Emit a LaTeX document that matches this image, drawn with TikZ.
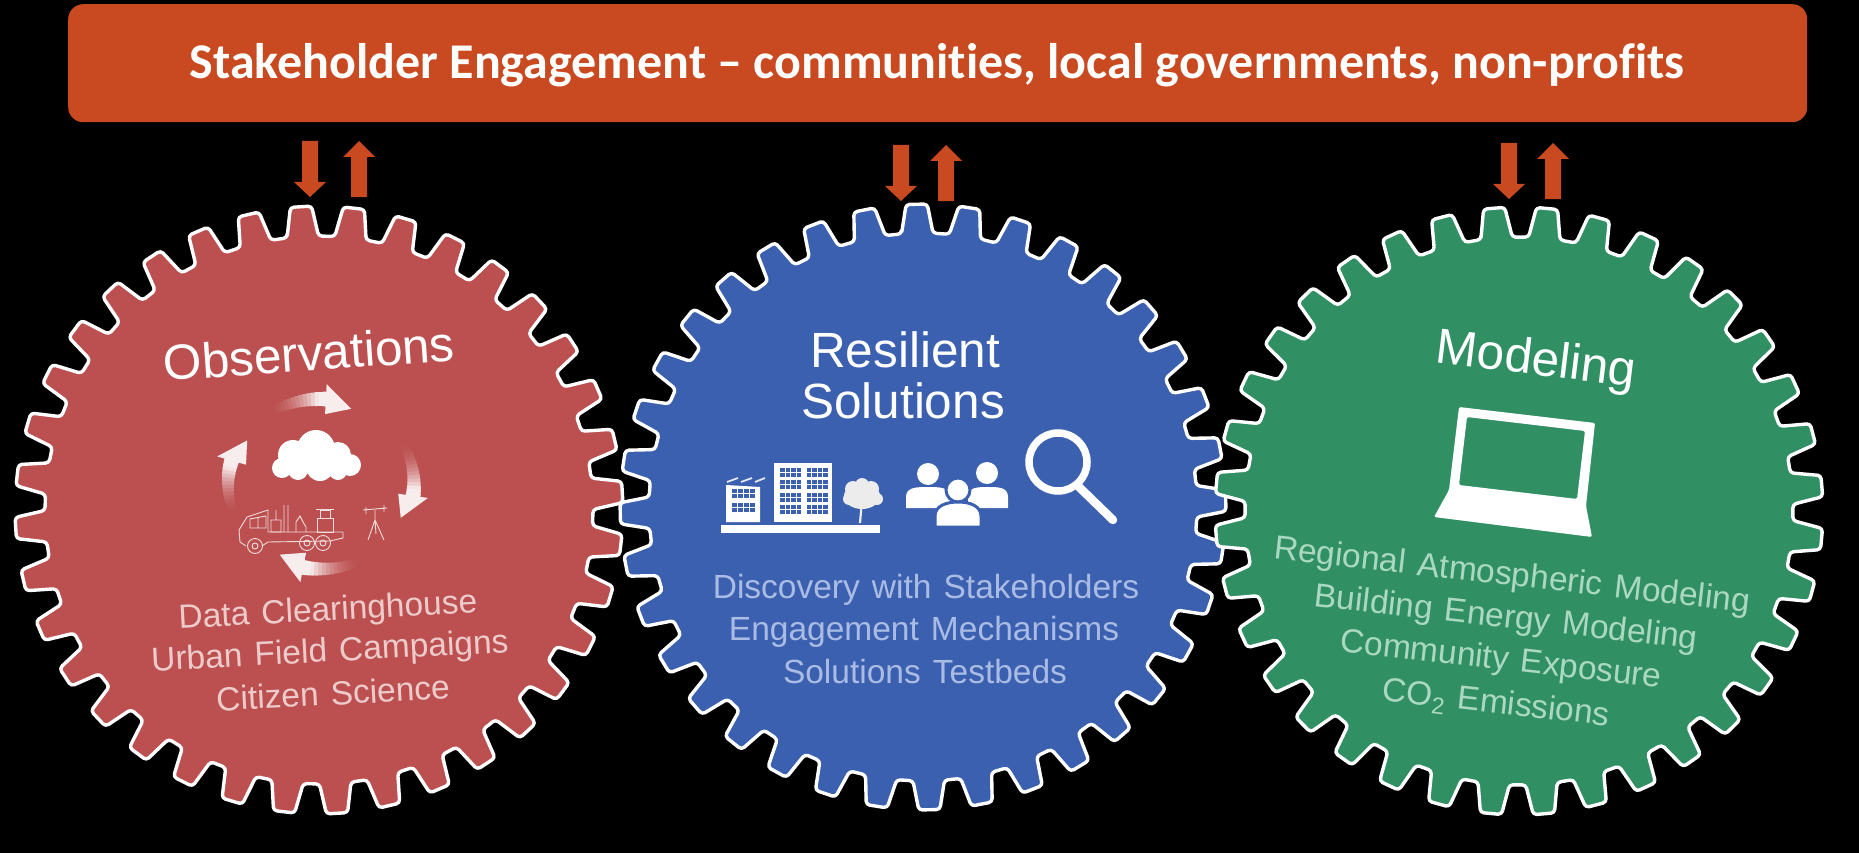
\documentclass[tikz,border=0pt]{standalone}
\usepackage{fontspec}
\setmainfont{Liberation Sans}
\newfontfamily\bannerfont[Ligatures=CommonOff]{Carlito}
\newfontfamily\subfont[WordSpace=1.3]{Liberation Sans}
\definecolor{bannerc}{HTML}{C94A20}
\definecolor{redg}{HTML}{BC5050}
\definecolor{blueg}{HTML}{3B60B0}
\definecolor{greeng}{HTML}{319063}
\definecolor{redt}{HTML}{EDCBCB}
\definecolor{bluet}{HTML}{AABCE4}
\definecolor{greent}{HTML}{ABD8C0}
\newcommand\gearshape[3]{%
  \draw[white,line width=3.4pt,fill=#3,rounded corners=3.5pt,line join=round]
    ({#2-3.3}:274)
    foreach \i in {0,...,35} {
      -- ({#2+\i*10-3.3}:274) -- ({#2+\i*10-2}:#1) -- ({#2+\i*10+2}:#1) -- ({#2+\i*10+3.3}:274)
    } -- cycle;
}
\newcommand\blockdown[2]{%
  \fill[bannerc] (#1-8,#2) -- (#1+8,#2) -- (#1+8,#2+41) -- (#1+16,#2+41) -- (#1,#2+56) -- (#1-16,#2+41) -- (#1-8,#2+41) -- cycle;}
\newcommand\blockup[2]{%
  \fill[bannerc] (#1-8,#2+56) -- (#1+8,#2+56) -- (#1+8,#2+16) -- (#1+16,#2+16) -- (#1,#2) -- (#1-16,#2+16) -- (#1-8,#2+16) -- cycle;}
\newcommand\cyclearrow[1]{%
  \foreach \k in {0,...,15} {
    \pgfmathsetmacro\ta{#1+\k*2.4}
    \pgfmathsetmacro\tb{#1+\k*2.4+2.8}
    \pgfmathsetmacro\tint{min(90,\k*\k*0.5)}
    \pgfmathsetmacro\lw{8+\k*0.45}
    \draw[line width=\lw pt,white!\tint!redg] ({321+93*cos(\ta)},{484+85*sin(\ta)}) -- ({321+93*cos(\tb)},{484+85*sin(\tb)});
  }
  \fill[white!90!redg] ({321+108*cos(#1+38)},{484+100*sin(#1+38)}) -- ({321+78*cos(#1+38)},{484+70*sin(#1+38)}) -- ({321+88*cos(#1+55)},{484+80*sin(#1+55)}) -- cycle;
}
\tikzset{
  title/.style={font=\fontsize{49.5}{52}\selectfont,white,align=center},
  subr/.style={font=\subfont\fontsize{33.5}{36}\selectfont,redt},
  subb/.style={font=\subfont\fontsize{33.5}{36}\selectfont,bluet},
  subg/.style={font=\subfont\fontsize{33.5}{36}\selectfont,greent},
  thinw/.style={white!80!redg,line width=0.9pt},
}
\begin{document}
\begin{tikzpicture}[x=1pt,y=-1pt]
\useasboundingbox (0,0) rectangle (1859,853);
\fill[black] (0,0) rectangle (1859,853);
% banner
\node[fill=bannerc,rounded corners=15pt,minimum width=1739pt,minimum height=118pt,inner sep=0pt,anchor=north west] (banner) at (68,4) {};
\node[font=\bannerfont\bfseries\fontsize{50}{54}\selectfont,white] (bannertext) at (937,65) {Stakeholder Engagement – communities, local governments, non-profits};
% arrows
\blockdown{310}{141}\blockup{359}{141}
\blockdown{901}{145}\blockup{946}{145}
\blockdown{1509}{143}\blockup{1553}{143}
% gears
\begin{scope}[shift={(923,507)}]\gearshape{303}{-91.2}{blueg}\end{scope}
\begin{scope}[shift={(319,510)}]\gearshape{304}{-93.4}{redg}\end{scope}
\begin{scope}[shift={(1519,511)}]\gearshape{304}{-94.7}{greeng}\end{scope}
% red gear contents
\node[title,rotate=4] (obs) at (309,353) {Observations};
\foreach \s in {-125,-30,63,158} {\cyclearrow{\s}}
\fill[white] (282,468) circle (10) (293,455) circle (15) (316,449) circle (19) (338,455) circle (13) (350,465) circle (11) (320,467) circle (14) (298,470) circle (10) (338,471) circle (9);
% truck
\draw[thinw,line join=round] (240,542) -- (239,530) -- (247,517) -- (268,510) -- (268,532) -- (343,532) -- (343,538) -- (330,541) -- (268,542) -- (262,546) (240,542) -- (246,546);
\draw[thinw] (250,519) -- (250,528) -- (266,528) -- (266,516) -- cycle (258,517) -- (258,528);
\draw[thinw] (271,532) rectangle (281,520) (276,520) -- (276,510) (284,532) -- (284,505) (288,532) -- (288,505) (296,532) -- (296,522) -- (300,516) -- (303,522) -- (306,527) -- (306,532);
\draw[thinw] (317,532) rectangle (333,518) (320,518) -- (320,510) -- (330,510) -- (330,518) (316,509) -- (334,509);
\foreach \c in {(255,546),(307,543),(323,543)} {\draw[thinw] \c circle (7.5) \c circle (3);}
% tripod
\draw[thinw] (363,510) -- (387,508) (366,507) -- (366,514) (384,505) -- (384,512) (375,510) -- (375,520) (375,520) -- (368,540) (375,520) -- (384,540) (375,520) -- (376,534);
\node[subr,rotate=3] (r1) at (328,612) {Data Clearinghouse};
\node[subr,rotate=3] (r2) at (330,653) {Urban Field Campaigns};
\node[subr,rotate=3] (r3) at (333,693) {Citizen Science};
% blue gear contents
\node[title] (res1) at (905,350) {Resilient};
\node[title] (res2) at (903,401) {Solutions};
\fill[white] (721,525) rectangle (880,533);
\fill[white] (726,485) -- (760,487) -- (760,522) -- (726,522) -- cycle;
\fill[white] (774,463) rectangle (832,522);
\foreach \xx in {732,738,744,750} {\foreach \yy in {489,494,503,508} {\fill[blueg] (\xx,\yy) rectangle ++(4.6,4);}}
\foreach \xx in {780,785.5,791,796.5,806.5,812,817.5,823} {\foreach \yy in {467.5,472.5,480,485,492.5,497.5,505,510} {\fill[blueg] (\xx,\yy) rectangle ++(4.5,4);}}
\draw[white!85!blueg,line width=1.8pt] (727,482) -- (738,478) (741,482) -- (752,478) (755,482) -- (765,478);
\fill[white!85!gray] (862,496) ellipse (18 and 13) (853,489) circle (8) (871,489) circle (8) (862,485) circle (7) (849,499) circle (6) (877,499) circle (6);
\draw[white!85!gray,line width=2.2pt] (862,500) -- (860,523);
\foreach \p/\w/\yt/\yb in {928/22/487/508,988/20/487/508} {
  \fill[white] (\p-\w,\yb) -- (\p-\w,\yt+10) .. controls (\p-\w,\yt) and (\p-\w/2,\yt) .. (\p,\yt) .. controls (\p+\w/2,\yt) and (\p+\w,\yt) .. (\p+\w,\yt+10) -- (\p+\w,\yb) -- cycle;
}
\fill[white] (928,474) circle (11) (987,473) circle (11);
\fill[white,draw=blueg,line width=3pt] (958,490) circle (12);
\fill[white,draw=blueg,line width=3pt] (935,527) -- (935,516) .. controls (935,506) and (946,502) .. (958,502) .. controls (970,502) and (981,506) .. (981,516) -- (981,527) -- cycle;
\fill[blueg] (930,526) rectangle (986,535);
\draw[white,line width=7.5pt] (1058,462) circle (29);
\draw[white,line width=8.5pt,line cap=round] (1079,487) -- (1113,520);
\node[subb] (b1) at (926,590) {Discovery with Stakeholders};
\node[subb] (b2) at (924,632) {Engagement Mechanisms};
\node[subb] (b3) at (925,672) {Solutions Testbeds};
% green gear contents
\node[title,rotate=-7] (mod) at (1536,362) {Modeling};
\fill[white,rounded corners=2pt,even odd rule] (1459,407) -- (1595,423) -- (1586,506) -- (1592,537) -- (1434,517) -- (1449,490) -- cycle (1467,417) -- (1585,431) -- (1577,499) -- (1459,485) -- cycle;
\node[subg,rotate=-6.4] (g1) at (1512,577) {Regional Atmospheric Modeling};
\node[subg,rotate=-6.4] (g2) at (1506,619) {Building Energy Modeling};
\node[subg,rotate=-6.4] (g3) at (1501,661) {Community Exposure};
\node[subg,rotate=-6.4] (g4) at (1496,705) {CO\textsubscript{2} Emissions};
\end{tikzpicture}
\end{document}
